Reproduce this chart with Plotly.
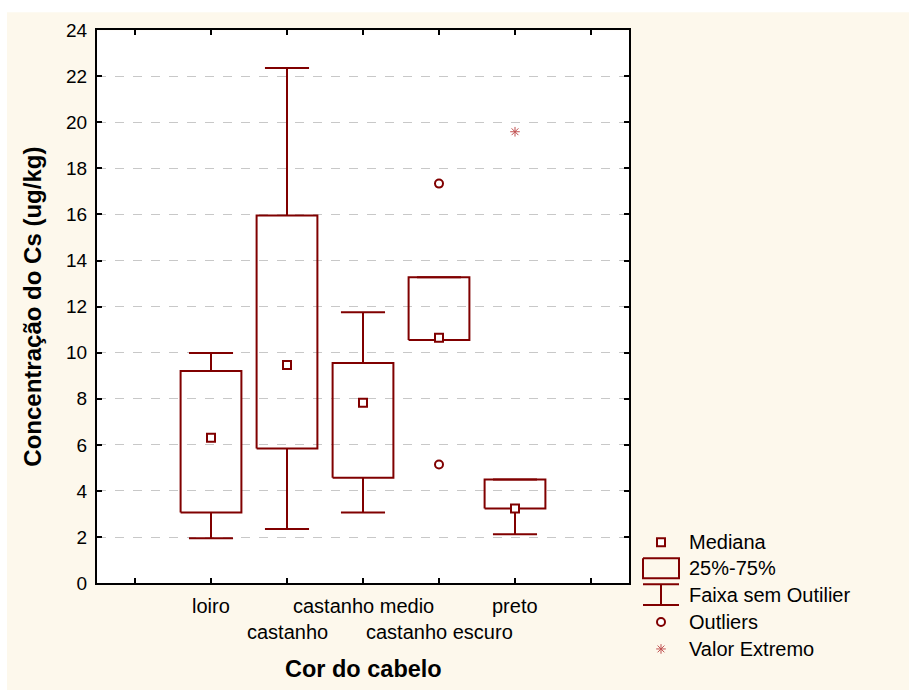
import plotly.graph_objects as go

# ---------------- data ----------------
categories = ["loiro", "castanho", "castanho medio", "castanho escuro", "preto"]
whisker_low = [1.95, 2.35, 3.07, 10.55, 2.12]
q1 = [3.07, 5.84, 4.58, 10.55, 3.24]
median = [6.31, 9.47, 7.83, 10.65, 3.24]
q3 = [9.21, 15.96, 9.56, 13.28, 4.50]
whisker_high = [9.99, 22.36, 11.76, 13.28, 4.50]
outlier_cat = ["castanho escuro", "castanho escuro"]
outlier_vals = [17.34, 5.15]
extreme_cat = ["preto"]
extreme_vals = [19.59]
y_ticks = list(range(0, 25, 2))
legend_labels = ["Mediana", "25%-75%", "Faixa sem Outilier", "Outliers", "Valor Extremo"]

# ---------------- styling ----------------
RED = "#800000"
EXTREME = "#c05050"
CREAM = "#fdf8ec"
FONT = "Liberation Sans"
W, H = 909, 690
PL, PR, PT, PB = 97, 629, 29, 584
BW, CW = 0.40, 0.29


def fy(py):
    # screen pixel row -> layout pixel row (compensates the page capture)
    return (py - 8.8) / 0.973


def ypaper(py):
    return (H - fy(py)) / H


pos = {c: i + 1 for i, c in enumerate(categories)}

fig = go.Figure()

# boxes
bx, by = [], []
for i, c in enumerate(categories):
    p = pos[c]
    bx += [p - BW, p + BW, p + BW, p - BW, p - BW, None]
    by += [q1[i], q1[i], q3[i], q3[i], q1[i], None]
fig.add_trace(go.Scatter(x=bx, y=by, mode="lines", line=dict(color=RED, width=2),
                         hoverinfo="skip", showlegend=False))

# whiskers
wx, wy = [], []
for i, c in enumerate(categories):
    p = pos[c]
    wx += [p, p, None, p - CW, p + CW, None, p, p, None, p - CW, p + CW, None]
    wy += [q3[i], whisker_high[i], None, whisker_high[i], whisker_high[i], None,
           q1[i], whisker_low[i], None, whisker_low[i], whisker_low[i], None]
fig.add_trace(go.Scatter(x=wx, y=wy, mode="lines", line=dict(color=RED, width=2),
                         hoverinfo="skip", showlegend=False))

# medians
fig.add_trace(go.Scatter(x=[pos[c] for c in categories], y=median, mode="markers",
                         marker=dict(symbol="square", size=8, color="white",
                                     line=dict(color=RED, width=2)),
                         showlegend=False))
# outliers
fig.add_trace(go.Scatter(x=[pos[c] for c in outlier_cat], y=outlier_vals, mode="markers",
                         marker=dict(symbol="circle", size=8, color="white",
                                     line=dict(color=RED, width=2)),
                         showlegend=False))
# extremes
fig.add_trace(go.Scatter(x=[pos[c] for c in extreme_cat], y=extreme_vals, mode="markers",
                         marker=dict(symbol="asterisk-open", size=8, color=EXTREME,
                                     line=dict(color=EXTREME, width=1)),
                         showlegend=False))

# ---------------- legend (drawn on a pixel overlay axis) ----------------
LX, LX0, LX1 = 661, 643, 679
ly = [543, 569, 596, 623, 650]
fig.add_trace(go.Scatter(x=[LX], y=[fy(ly[0])], mode="markers", xaxis="x2", yaxis="y2",
                         marker=dict(symbol="square", size=8, color="white",
                                     line=dict(color=RED, width=2)), showlegend=False))
fig.add_trace(go.Scatter(x=[LX0, LX1, LX1, LX0, LX0],
                         y=[fy(v) for v in [559, 559, 579, 579, 559]],
                         mode="lines", xaxis="x2", yaxis="y2",
                         line=dict(color=RED, width=2), showlegend=False))
fig.add_trace(go.Scatter(x=[LX0, LX1, None, LX, LX, None, LX0, LX1],
                         y=[fy(585), fy(585), None, fy(585), fy(606), None, fy(606), fy(606)],
                         mode="lines", xaxis="x2", yaxis="y2",
                         line=dict(color=RED, width=2), showlegend=False))
fig.add_trace(go.Scatter(x=[LX], y=[fy(ly[3])], mode="markers", xaxis="x2", yaxis="y2",
                         marker=dict(symbol="circle", size=8, color="white",
                                     line=dict(color=RED, width=2)), showlegend=False))
fig.add_trace(go.Scatter(x=[LX], y=[fy(ly[4])], mode="markers", xaxis="x2", yaxis="y2",
                         marker=dict(symbol="asterisk-open", size=8, color=EXTREME,
                                     line=dict(color=EXTREME, width=1)), showlegend=False))

annotations = []
for lab, yy in zip(legend_labels, ly):
    annotations.append(dict(x=687 / W, y=ypaper(yy), xref="paper", yref="paper",
                            text=lab, showarrow=False, xanchor="left", yanchor="middle",
                            font=dict(family=FONT, size=20, color="black")))

# category tick labels (staggered)
for i, c in enumerate(categories):
    yy = 607 if i % 2 == 0 else 633
    annotations.append(dict(x=pos[c], y=ypaper(yy), xref="x", yref="paper", text=c,
                            showarrow=False, xanchor="center", yanchor="middle",
                            font=dict(family=FONT, size=20, color="black")))

annotations.append(dict(x=(PL + PR) / 2 / W, y=ypaper(670), xref="paper", yref="paper",
                        text="<b>Cor do cabelo</b>", showarrow=False,
                        xanchor="center", yanchor="middle",
                        font=dict(family=FONT, size=23.5, color="black")))
annotations.append(dict(x=33 / W, y=ypaper((PT + PB) / 2), xref="paper", yref="paper",
                        text="<b>Concentração do Cs (ug/kg)</b>", showarrow=False,
                        textangle=-90, xanchor="center", yanchor="middle",
                        font=dict(family=FONT, size=24, color="black")))

shapes = [
    dict(type="rect", xref="paper", yref="paper", x0=7 / W, x1=1, y0=-0.05, y1=ypaper(11),
         fillcolor=CREAM, line=dict(width=0), layer="below"),
    dict(type="rect", xref="paper", yref="paper", x0=PL / W, x1=PR / W,
         y0=ypaper(PB), y1=ypaper(PT), fillcolor="white", line=dict(width=0), layer="below"),
]

axis_common = dict(showline=True, linecolor="black", linewidth=2, mirror="ticks",
                   ticks="inside", ticklen=5, tickwidth=1.5, tickcolor="black",
                   zeroline=False, fixedrange=True)

fig.update_layout(
    width=W, height=H,
    margin=dict(l=0, r=0, t=0, b=0),
    paper_bgcolor="white",
    plot_bgcolor="rgba(0,0,0,0)",
    hovermode=False,
    xaxis=dict(domain=[PL / W, PR / W], range=[-0.5, 6.5], tickvals=list(range(7)),
               showticklabels=False, showgrid=False, anchor="y", **axis_common),
    yaxis=dict(domain=[ypaper(PB), ypaper(PT)], range=[0, 24], tickvals=y_ticks,
               showgrid=True, gridcolor="#c8c8c8", gridwidth=1, griddash="dash",
               tickfont=dict(family=FONT, size=19, color="black"), anchor="x",
               ticklabelstandoff=4, **axis_common),
    xaxis2=dict(domain=[0, 1], range=[0, W], visible=False, anchor="y2", fixedrange=True),
    yaxis2=dict(domain=[0, 1], range=[H, 0], visible=False, anchor="x2", fixedrange=True),
    annotations=annotations,
    shapes=shapes,
    font=dict(family=FONT, color="black"),
)

fig.write_html("out.html")
